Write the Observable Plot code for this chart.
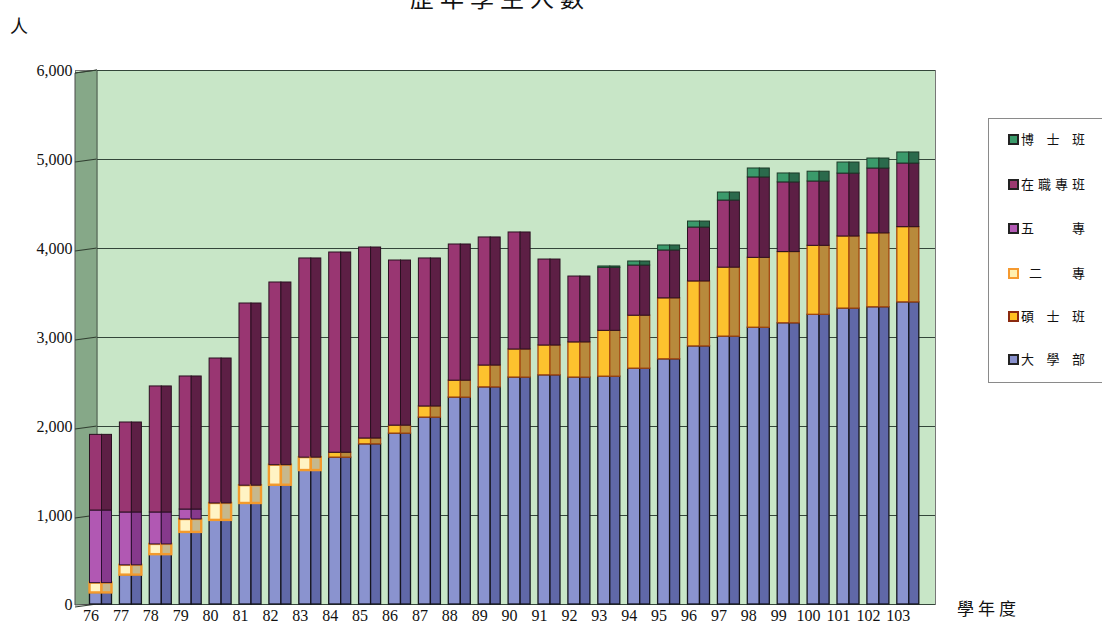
<!DOCTYPE html>
<html>
<head>
<meta charset="utf-8">
<script src="https://cdn.jsdelivr.net/npm/d3@7"></script>
<script src="https://cdn.jsdelivr.net/npm/@observablehq/plot@0.6"></script>
<style>
  html, body { margin: 0; padding: 0; background: #fff; }
  body { width: 1102px; height: 625px; overflow: hidden; position: relative; font-family: "Noto Sans CJK TC", "Noto Sans CJK SC", sans-serif; color: #111; }
  #chart { position: absolute; left: 0; top: 0; }
  .title { position: absolute; left: 410px; top: -15px; font-size: 24px; line-height: 24px; letter-spacing: 6px; white-space: nowrap; }
  .unit { position: absolute; left: 10px; top: 14px; font-size: 18px; line-height: 22px; }
  .xlab { position: absolute; left: 957px; top: 598px; font-size: 17px; line-height: 20px; letter-spacing: 4px; }
  .legend { position: absolute; left: 988px; top: 118px; width: 120px; height: 263px; border: 1px solid #8a8a8a; background: #fff; }
  .item { position: absolute; left: 19px; height: 16px; display: flex; align-items: center; font-size: 13px; line-height: 16px; }
  .sw { width: 7px; height: 7px; border: 2px solid #222; margin-right: 2px; }
  .nm { display: flex; justify-content: space-between; width: 64px; }
</style>
</head>
<body>
<div class="title" id="title"></div>
<div class="unit" id="unit"></div>
<div id="chart"></div>
<div class="xlab" id="xlab"></div>
<div class="legend" id="legend"></div>
<script>
// ---------- data ----------
const years = [76, 77, 78, 79, 80, 81, 82, 83, 84, 85, 86, 87, 88, 89, 90, 91, 92, 93, 94, 95, 96, 97, 98, 99, 100, 101, 102, 103];
const seriesNames = ["大學部", "碩士班", "二專", "五專", "在職專班", "博士班"];
const legendLabels = ["大 學 部", "碩 士 班", "　二　專", "五　　專", "在職專班", "博 士 班"];
const univ      = [130, 330, 560, 810, 945, 1135, 1340, 1505, 1650, 1800, 1920, 2100, 2325, 2440, 2550, 2575, 2550, 2560, 2650, 2755, 2900, 3010, 3110, 3160, 3255, 3325, 3340, 3395];
const master    = [0, 0, 0, 0, 0, 0, 0, 0, 55, 65, 90, 125, 190, 245, 315, 335, 395, 515, 595, 685, 730, 775, 785, 800, 775, 810, 830, 845];
const twoYear   = [110, 110, 115, 145, 190, 200, 225, 145, 0, 0, 0, 0, 0, 0, 0, 0, 0, 0, 0, 0, 0, 0, 0, 0, 0, 0, 0, 0];
const fiveYear  = [816, 594, 359, 112, 0, 0, 0, 0, 0, 0, 0, 0, 0, 0, 0, 0, 0, 0, 0, 0, 0, 0, 0, 0, 0, 0, 0, 0];
const inService = [850, 1011, 1416, 1495, 1629, 2047, 2053, 2238, 2250, 2146, 1855, 1663, 1530, 1439, 1315, 966, 740, 708, 564, 538, 606, 754, 904, 783, 723, 707, 729, 715];
const doctor    = [0, 0, 0, 0, 0, 0, 0, 0, 0, 0, 0, 0, 0, 0, 0, 0, 0, 15, 45, 56, 67, 90, 100, 100, 110, 124, 112, 124];
const yTicks = [0, 1000, 2000, 3000, 4000, 5000, 6000];

// ---------- styles ----------
const frontColors  = ["#8a93cf", "#fdc22e", "#fff3c4", "#b158b3", "#993672", "#3b9a6b"];
const sideColors   = ["#6068a8", "#b88a3c", "#c6b88e", "#86398c", "#5d1f45", "#2b6a4c"];
const strokeColors = ["#15151f", "#a4470f", "#f39a2c", "#2a1030", "#2a1020", "#1c3a28"];
const strokeWidths = [1.3, 1.3, 2.4, 1, 1, 1];
const legendFill   = ["#8890cc", "#ffc020", "#fff0b0", "#b35ab5", "#9b3870", "#3a9a6a"];
const legendBorder = ["#222", "#8b2a10", "#f59a30", "#222", "#222", "#222"];

const seriesValues = [univ, master, twoYear, fiveYear, inService, doctor];
const rows = [];
years.forEach((yr, i) => {
  seriesValues.forEach((vals, s) => {
    if (vals[i] > 0) rows.push({year: String(yr), series: seriesNames[s], si: s, value: vals[i]});
  });
});

// ---------- texts ----------
document.getElementById("title").textContent = "歷年學生人數";
document.getElementById("unit").textContent = "人";
document.getElementById("xlab").textContent = "學年度";

const legend = document.getElementById("legend");
const legendTops = [240, 197, 154, 109, 65, 20];
seriesNames.forEach((name, s) => {
  const it = document.createElement("div");
  it.className = "item";
  it.style.top = (legendTops[s] - 8) + "px";
  const sw = document.createElement("div");
  sw.className = "sw";
  sw.style.background = legendFill[s];
  sw.style.borderColor = legendBorder[s];
  it.appendChild(sw);
  const nm = document.createElement("div");
  nm.className = "nm";
  for (const ch of legendLabels[s]) {
    if (ch === " " || ch === "　") continue;
    const c = document.createElement("span");
    c.textContent = ch;
    nm.appendChild(c);
  }
  if (legendLabels[s].startsWith("　")) { nm.style.paddingLeft = "8px"; nm.style.width = "56px"; }
  it.appendChild(nm);
  legend.appendChild(it);
});

// ---------- decorative 3D side wall ----------
function wall(index, scales, values, dimensions) {
  const {marginLeft, marginTop, height, marginBottom} = dimensions;
  const y = scales.y;
  const g = d3.create("svg:g");
  const x0 = marginLeft, x1 = marginLeft + 22, yb = height - marginBottom;
  g.append("path")
    .attr("d", `M${x0},${marginTop + 3}L${x1},${marginTop}L${x1},${yb}L${x0},${yb + 1}Z`)
    .attr("fill", "#86a888").attr("stroke", "#4a4a4a").attr("stroke-width", 1);
  for (const t of yTicks) {
    g.append("line").attr("x1", x0).attr("x2", x1).attr("y1", y(t) + 3).attr("y2", y(t))
      .attr("stroke", "#2f3d2f").attr("stroke-width", 1.2);
  }
  g.append("line").attr("x1", x1).attr("x2", x1).attr("y1", marginTop).attr("y2", yb)
    .attr("stroke", "#6d8a6f").attr("stroke-width", 1);
  return g.node();
}

const stackOpts = {x: "year", y: "value", z: "series", order: seriesNames};

const chart = Plot.plot({
  width: 1102,
  height: 625,
  marginTop: 70,
  marginBottom: 21,
  marginLeft: 75,
  marginRight: 167,
  style: {fontFamily: "Liberation Serif, serif", background: "transparent", color: "#111"},
  x: {type: "band", domain: years.map(String), range: [81.6, 926.7], padding: 0.264, round: false, label: null},
  y: {domain: [0, 6000], label: null},
  color: {type: "identity"},
  marks: [
    Plot.frame({fill: "#c8e6c7", stroke: "#777"}),
    wall,
    Plot.ruleY(yTicks, {insetLeft: 22, stroke: "#34463a", strokeWidth: 1.2}),
    Plot.barY(rows, Plot.stackY({
      ...stackOpts,
      fill: d => frontColors[d.si],
      stroke: d => strokeColors[d.si],
      strokeWidth: d => strokeWidths[d.si],
      insetRight: 10
    })),
    Plot.barY(rows, Plot.stackY({
      ...stackOpts,
      fill: d => sideColors[d.si],
      stroke: d => strokeColors[d.si],
      strokeWidth: d => strokeWidths[d.si],
      insetLeft: 12
    })),
    Plot.axisY({ticks: yTicks, tickSize: 0, tickPadding: 3, fontSize: 16, tickFormat: d3.format(","), label: null}),
    Plot.axisX({tickSize: 0, tickPadding: 5, fontSize: 16, dx: -10, label: null})
  ]
});
document.getElementById("chart").appendChild(chart);
</script>
</body>
</html>
